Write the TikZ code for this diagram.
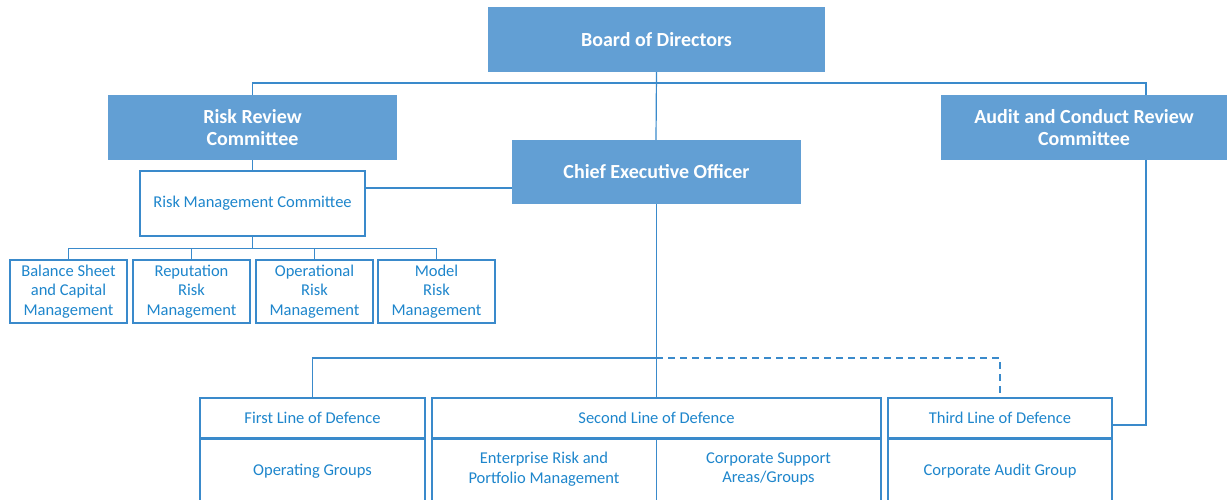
\documentclass[tikz,border=0pt]{standalone}
\usepackage{fontspec}
\setmainfont{Carlito}
\usetikzlibrary{calc,positioning}
\definecolor{rbcfill}{HTML}{629FD4}
\definecolor{rbctext}{HTML}{1E86CC}
\definecolor{rbcline}{HTML}{3A8ACB}
\tikzset{
  head/.style={rectangle,fill=rbcfill,text=white,font=\fontsize{20}{22}\selectfont\bfseries,align=center,inner sep=0pt},
  unit/.style={rectangle,draw=rbcline,line width=1.2pt,fill=white,text=rbctext,font=\fontsize{16.5}{19.7}\selectfont,align=center,inner sep=0pt},
  cell/.style={rectangle,text=rbctext,font=\fontsize{16.5}{19.7}\selectfont,align=center,inner sep=0pt},
  link/.style={draw=rbcline,line width=1.2pt}
}
\begin{document}
\begin{tikzpicture}[x=1pt,y=-1pt]
  \useasboundingbox (0,0) rectangle (1227,500);
  \clip (0,0) rectangle (1227,500);

  % top level
  \node[head,minimum width=337pt,minimum height=65pt] (board) at (656.5,39.5) {Board of Directors};
  \node[head,minimum width=289pt,minimum height=65pt] (rrc) at (252.5,127.5) {Risk Review\\Committee};
  \node[head,minimum width=286pt,minimum height=65pt] (acrc) at (1084,127.5) {Audit and Conduct Review\\Committee};
  \coordinate (bar) at (1146,83);
  \coordinate (acin) at (1146,95);
  \coordinate (acout) at (1146,160);
  \draw[link] (board.south) -- (656,140);
  \draw[link] (rrc.north) |- (bar) -- (acin);
  \node[head,minimum width=289pt,minimum height=64pt] (ceo) at (656.5,172) {Chief Executive Officer};

  % risk management
  \node[unit,minimum width=225pt,minimum height=65pt] (rmc) at (252.5,203.5) {Risk Management Committee};
  \coordinate (rmcceo) at (365,188);
  \draw[link] (rrc.south) -- (rmc.north);
  \draw[link] (rmcceo) -- (ceo.west |- rmcceo);
  \node[unit,minimum width=117pt,minimum height=63pt] (bsc) at (68.5,291.5) {Balance Sheet\\and Capital\\Management};
  \node[unit,minimum width=117pt,minimum height=63pt] (rep) at (191.5,291.5) {Reputation\\Risk\\Management};
  \node[unit,minimum width=117pt,minimum height=63pt] (opr) at (314.5,291.5) {Operational\\Risk\\Management};
  \node[unit,minimum width=117pt,minimum height=63pt] (mdl) at (436.5,291.5) {Model\\Risk\\Management};
  \foreach \n in {bsc,rep,opr,mdl}
    \draw[link] (rmc.south) -- ++(0,12) -| (\n.north);

  % lines of defence
  \node[unit,minimum width=225pt,minimum height=40pt] (first) at (312.5,418) {First Line of Defence};
  \node[unit,minimum width=225pt,minimum height=64pt,anchor=north] (firstb) at (first.south) {Operating Groups};
  \node[unit,minimum width=449pt,minimum height=40pt] (second) at (656.5,418) {Second Line of Defence};
  \node[unit,minimum width=449pt,minimum height=64pt,anchor=north] (secondb) at (second.south) {};
  \node[cell] (erpm) at (544,469) {Enterprise Risk and\\Portfolio Management};
  \node[cell] (csag) at (768.5,469) {Corporate Support\\Areas/Groups};
  \draw[link] (second.south) -- (secondb.south);
  \node[unit,minimum width=224pt,minimum height=40pt] (third) at (1000,418) {Third Line of Defence};
  \node[unit,minimum width=224pt,minimum height=64pt,anchor=north] (thirdb) at (third.south) {Corporate Audit Group};

  \coordinate (split) at (656,358);
  \coordinate (thirdin) at (1112,425);
  \draw[link] (ceo.south) -- (second.north);
  \draw[link] (first.north) |- (split);
  \draw[link,dashed,dash pattern=on 7pt off 5pt] (split) -| (third.north);
  \draw[link] (acout) |- (thirdin);
\end{tikzpicture}
\end{document}
